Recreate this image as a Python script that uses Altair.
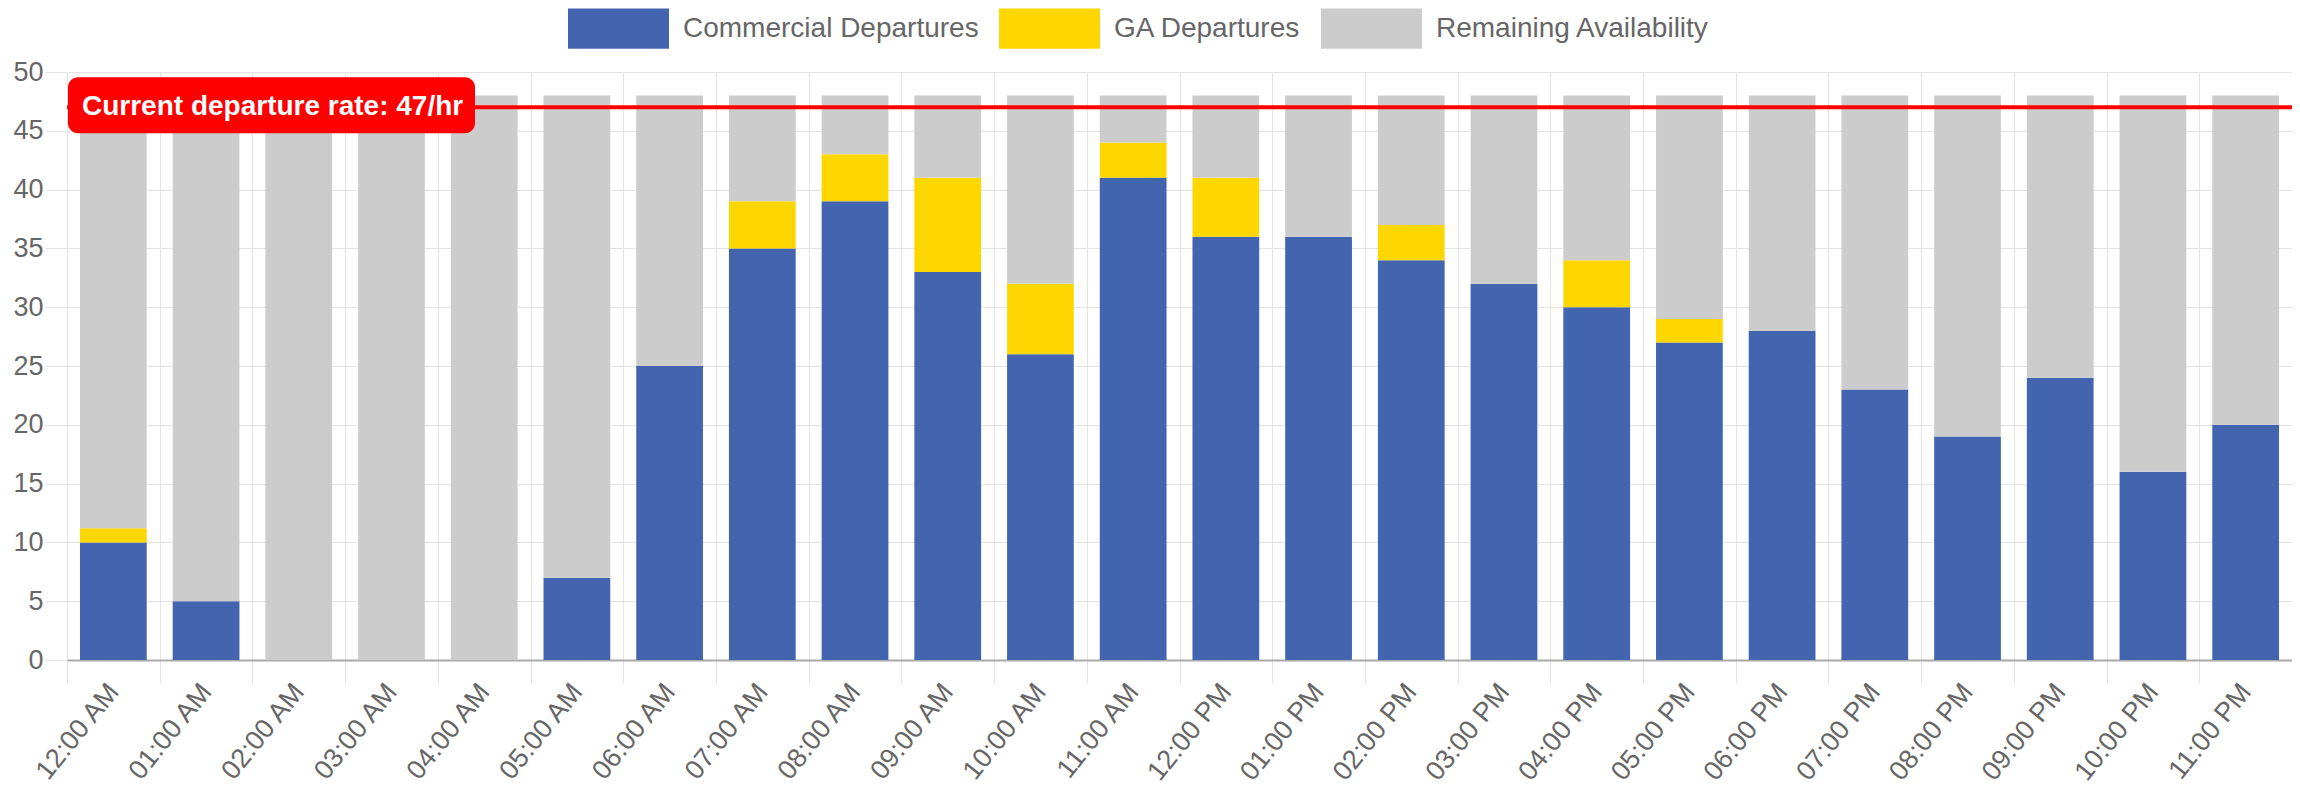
import altair as alt
import pandas as pd

hours = ["12:00 AM", "01:00 AM", "02:00 AM", "03:00 AM", "04:00 AM", "05:00 AM",
         "06:00 AM", "07:00 AM", "08:00 AM", "09:00 AM", "10:00 AM", "11:00 AM",
         "12:00 PM", "01:00 PM", "02:00 PM", "03:00 PM", "04:00 PM", "05:00 PM",
         "06:00 PM", "07:00 PM", "08:00 PM", "09:00 PM", "10:00 PM", "11:00 PM"]
commercial = [10, 5, 0, 0, 0, 7, 25, 35, 39, 33, 26, 41, 36, 36, 34, 32, 30, 27, 28, 23, 19, 24, 16, 20]
ga = [1.2, 0, 0, 0, 0, 0, 0, 4, 4, 8, 6, 3, 5, 0, 3, 0, 4, 2, 0, 0, 0, 0, 0, 0]
remaining = [36.8, 43, 48, 48, 48, 41, 23, 9, 5, 7, 16, 4, 7, 12, 11, 16, 14, 19, 20, 25, 29, 24, 32, 28]
series = ["Commercial Departures", "GA Departures", "Remaining Availability"]
colors = ["#4365b0", "#ffd700", "#cccccc"]
rate = 47

FONT = "Liberation Sans"

rows = []
for i, h in enumerate(hours):
    for k, vals in enumerate([commercial, ga, remaining]):
        rows.append({"hour": h, "series": series[k], "value": vals[i], "order": k})
df = pd.DataFrame(rows)

bars = alt.Chart(df).mark_bar(width=alt.RelativeBandSize(0.72)).encode(
    x=alt.X("hour:N", sort=hours,
            scale=alt.Scale(paddingInner=0, paddingOuter=0),
            axis=alt.Axis(title=None, labelAngle=-51, labelFontSize=27, labelColor="#666666",
                          labelFont=FONT, tickBand="extent", grid=True, gridColor="#e3e3e3",
                          tickColor="#e3e3e3", tickSize=23, domainColor="#aaaaaa", domainWidth=2,
                          labelPadding=4)),
    y=alt.Y("value:Q", stack="zero",
            scale=alt.Scale(domain=[0, 50], nice=False),
            axis=alt.Axis(title=None, values=list(range(0, 51, 5)), labelFontSize=27,
                          labelColor="#666666", labelFont=FONT, gridColor="#e3e3e3",
                          tickColor="#e3e3e3", tickSize=22, labelPadding=2, domain=False)),
    color=alt.Color("series:N", sort=series,
                    scale=alt.Scale(domain=series, range=colors),
                    legend=alt.Legend(title=None, orient="none", legendX=501, legendY=-94,
                                      direction="horizontal", symbolType="M-1,-0.4H1V0.4H-1Z",
                                      symbolSize=10201, symbolStrokeWidth=0, symbolOpacity=1,
                                      labelFontSize=28, labelColor="#666666", labelFont=FONT,
                                      labelLimit=0, labelOffset=14, columnPadding=20, padding=0)),
    order=alt.Order("order:Q"),
)

rate_df = pd.DataFrame({"rate": [rate]})
rule = alt.Chart(rate_df).mark_rule(color="#ff0000", strokeWidth=4).encode(y="rate:Q")

box = alt.Chart(rate_df).mark_rect(color="#ff0000", cornerRadius=10).encode(
    x=alt.value(1), x2=alt.value(408), y=alt.datum(49.55), y2=alt.datum(44.8))

label = alt.Chart(rate_df).mark_text(align="left", baseline="middle", fontSize=28,
                                     fontWeight="bold", color="white", font=FONT).encode(
    x=alt.value(15), y=alt.datum(rate), text=alt.value(f"Current departure rate: {rate}/hr"))

chart = alt.layer(bars, rule, box, label).properties(
    width=2225, height=588,
    padding={"left": 59, "top": 64, "right": 0, "bottom": 126},
    autosize=alt.AutoSizeParams(type="none"),
).configure_view(stroke=None)

chart.save("out.html", embed_options={"renderer": "svg", "actions": False})
